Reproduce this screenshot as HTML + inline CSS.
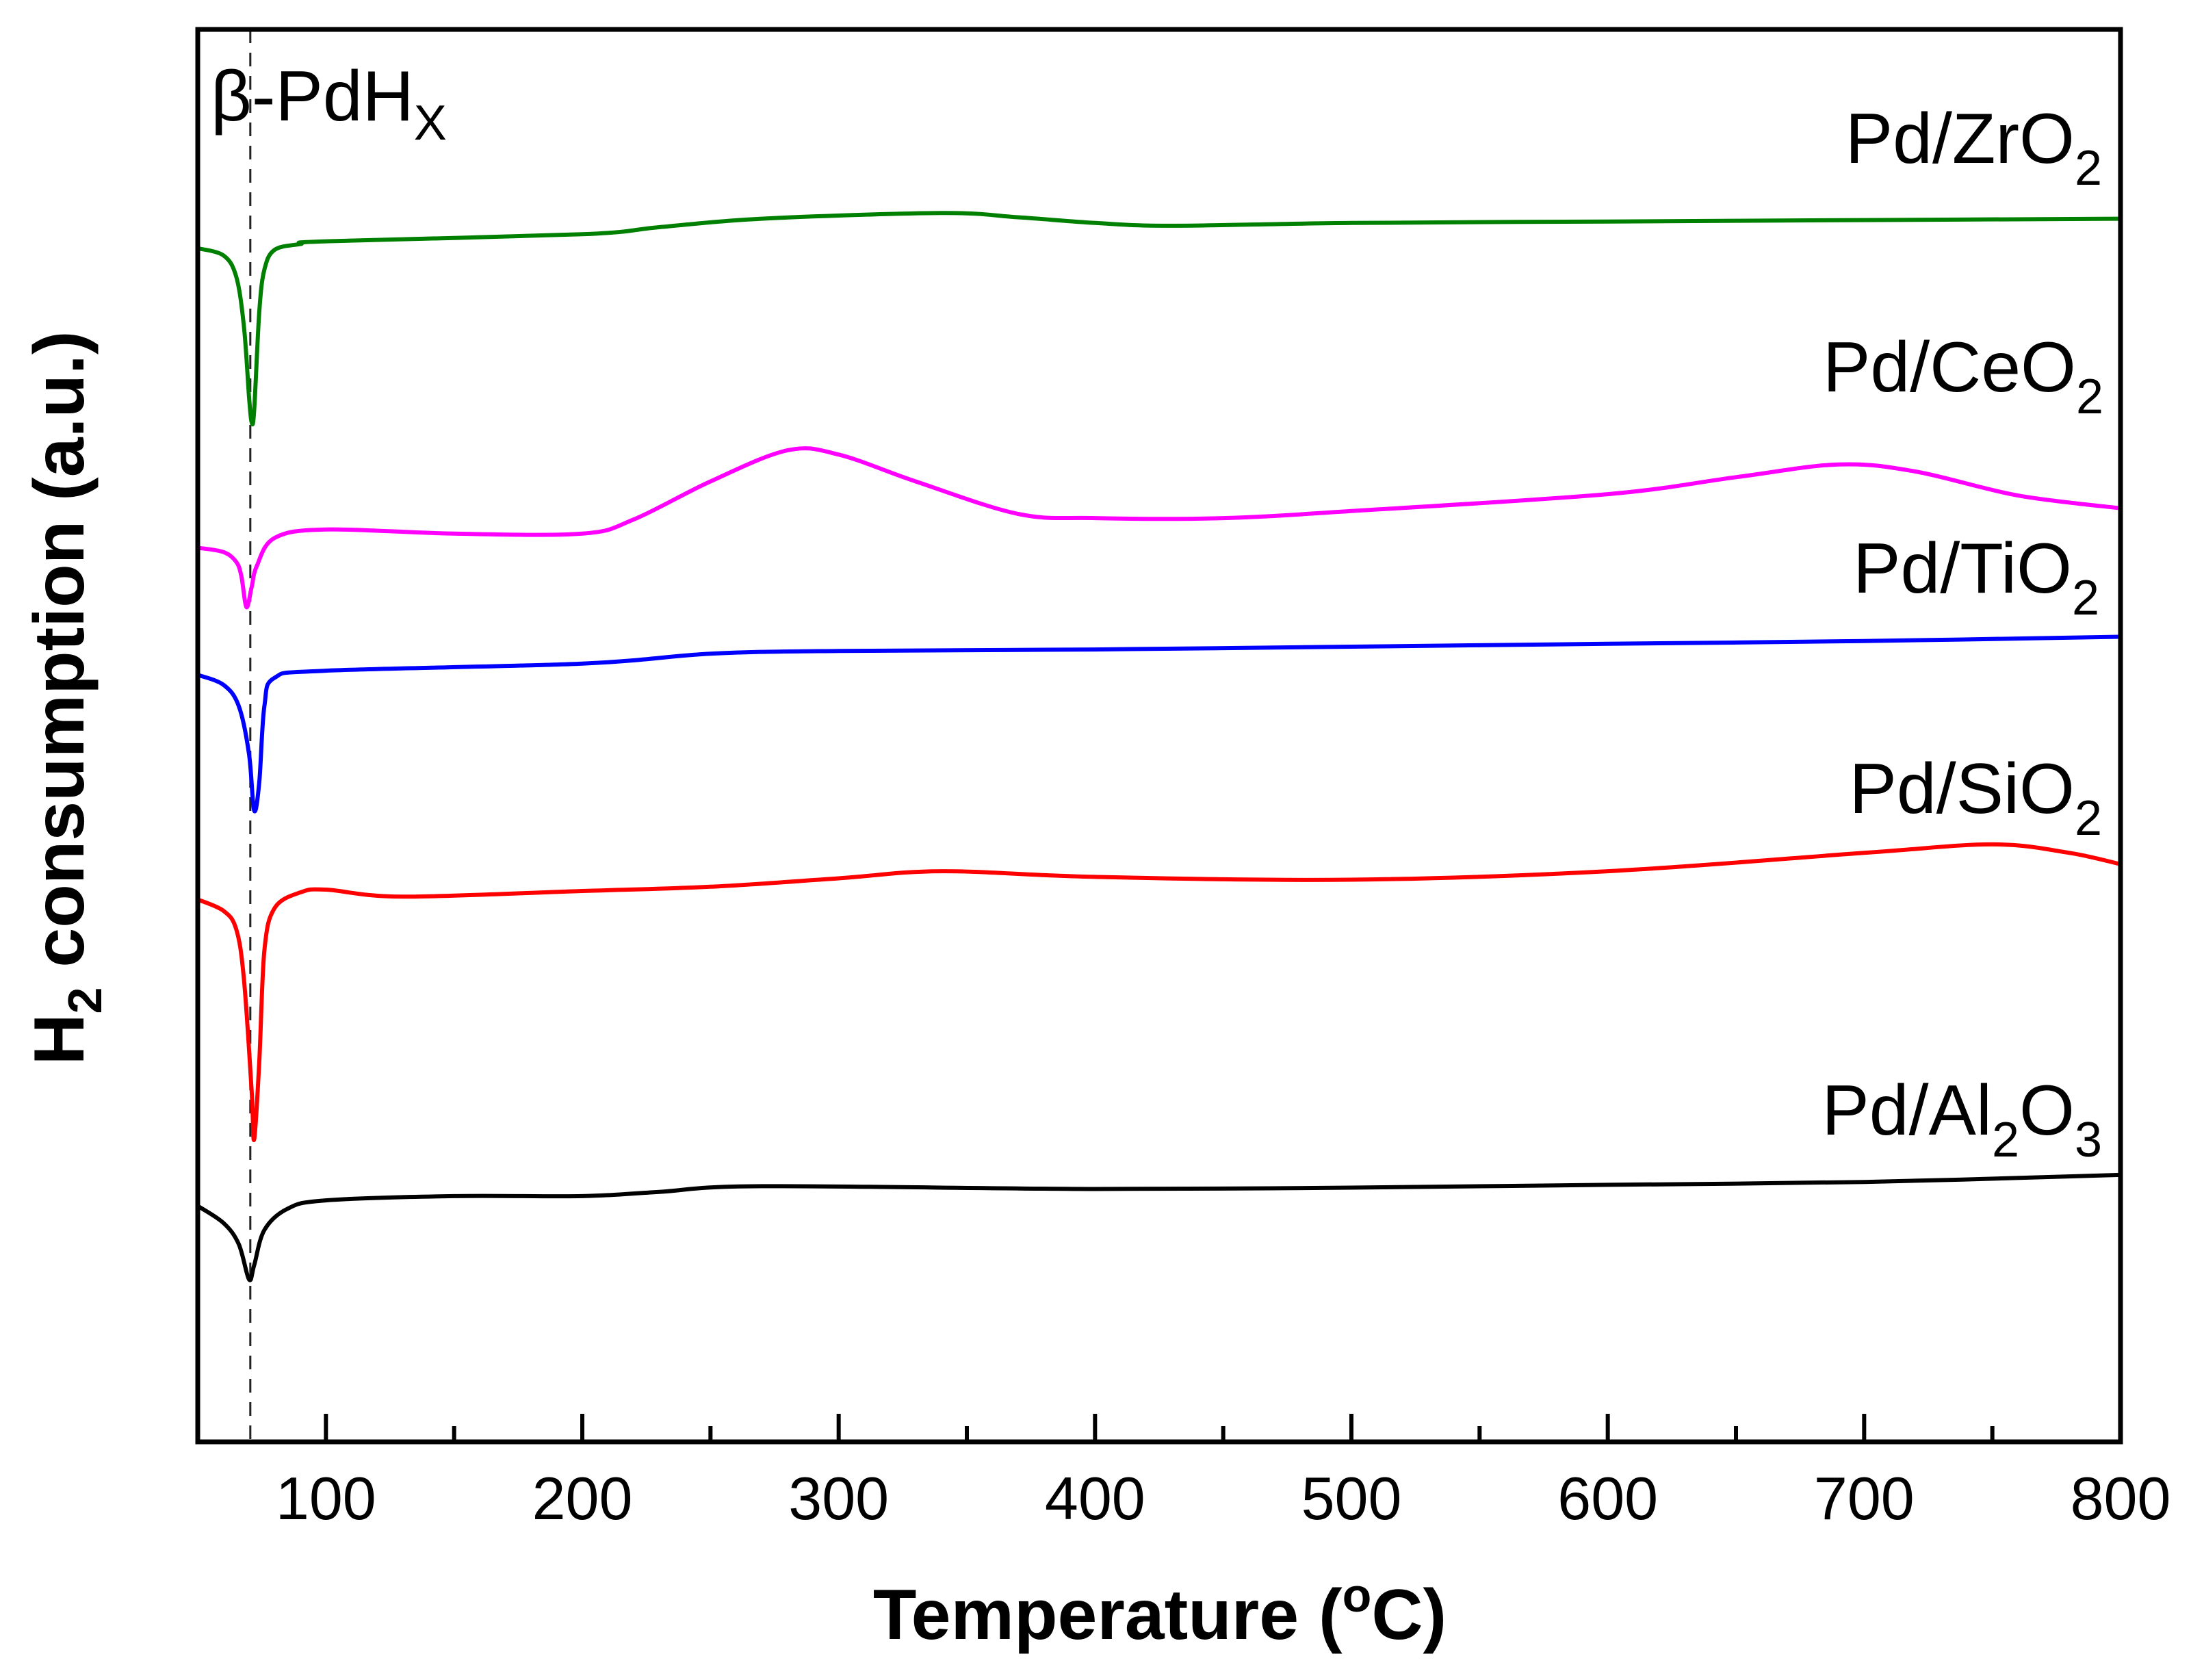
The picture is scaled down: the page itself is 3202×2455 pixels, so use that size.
<!DOCTYPE html>
<html><head><meta charset="utf-8"><style>
html,body{margin:0;padding:0;background:#fff;}
svg{display:block;font-family:"Liberation Sans",Arial,sans-serif;}
</style></head><body>
<svg id="chart" width="3202" height="2455" viewBox="0 0 3202 2455" xmlns="http://www.w3.org/2000/svg">
<g id="series"></g>
<g id="axes"></g>
<text x="308" y="176" font-size="104">β-PdH<tspan font-size="72" dy="28">X</tspan></text>
<text x="3072" y="238" text-anchor="end" font-size="104">Pd/ZrO<tspan font-size="72" dy="32">2</tspan></text>
<text x="3074" y="572" text-anchor="end" font-size="104">Pd/CeO<tspan font-size="72" dy="32">2</tspan></text>
<text x="3068" y="866" text-anchor="end" font-size="104">Pd/TiO<tspan font-size="72" dy="32">2</tspan></text>
<text x="3072" y="1188" text-anchor="end" font-size="104">Pd/SiO<tspan font-size="72" dy="32">2</tspan></text>
<text x="3072" y="1658" text-anchor="end" font-size="104">Pd/Al<tspan font-size="72" dy="32">2</tspan><tspan dy="-32">O</tspan><tspan font-size="72" dy="32">3</tspan></text>
<text x="1695" y="2395" text-anchor="middle" font-size="104" font-weight="bold">Temperature (<tspan font-size="70" dy="-40">o</tspan><tspan dy="40">C)</tspan></text>
<text transform="translate(122,1020) rotate(-90)" text-anchor="middle" font-size="104" font-weight="bold">H<tspan font-size="70" dy="26">2</tspan><tspan dy="-26"> consumption (a.u.)</tspan></text>
</svg>
<script>
const xTicks = [100,200,300,400,500,600,700,800];
const xMinorTicks = [150,250,350,450,550,650,750];
const markerTemp = 70.5;
const zrT = [50,60,65,68,70,71,72,74,76,80,90,100,200,230,270,340,370,400,430,500,600,700,800];
const zrV = [84.5,84.0,82.5,79,74,72.2,73,80,83,84.4,84.8,85.0,85.5,86.0,86.6,87.0,86.7,86.3,86.1,86.3,86.4,86.5,86.6];
const ceT = [50,60,65,67,69,71,73,80,100,150,200,220,250,280,300,330,370,400,450,500,600,650,690,720,760,800];
const ceV = [63.3,63.0,62.3,61.3,59.1,60.5,62.0,64.0,64.6,64.3,64.3,65.3,68.0,70.2,69.9,68.0,65.7,65.4,65.4,65.9,67.1,68.3,69.2,68.7,67.0,66.1];
const tiT = [50,60,66,70,72,74,76,80,100,200,250,300,400,500,600,700,800];
const tiV = [54.3,53.6,52.1,48.7,44.7,46.7,52.1,54.1,54.6,55.1,55.8,56.0,56.1,56.3,56.5,56.7,57.0];
const siT = [50,60,65,68,71,72,74,76,80,90,100,130,200,250,300,340,400,500,600,700,750,780,800];
const siV = [38.4,37.6,36.3,32.8,24.9,21.4,26.9,34.8,37.8,38.9,39.1,38.6,39.0,39.3,39.9,40.4,40.0,39.8,40.4,41.7,42.3,41.7,40.9];
const alT = [50,60,66,70,72,76,85,100,150,200,230,270,400,500,600,700,800];
const alV = [16.7,15.5,14.0,11.5,12.5,15.0,16.5,17.1,17.4,17.4,17.7,18.1,17.9,18.0,18.2,18.4,18.9];

const NS='http://www.w3.org/2000/svg';
const X0=289, X1=3099, Y0=2107, Y1=43;
function xs(t){return X0+(t-50)/(800-50)*(X1-X0);}
function ys(v){return Y0-v/100*(Y0-Y1);}
function pathFor(T,V){
  const p=T.map((t,i)=>[xs(t),ys(V[i])]);
  let d='M'+p[0][0].toFixed(1)+','+p[0][1].toFixed(1);
  for(let i=0;i<p.length-1;i++){
    const a=p[Math.max(0,i-1)],b=p[i],c=p[i+1],e=p[Math.min(p.length-1,i+2)];
    const c1=[b[0]+(c[0]-a[0])/6,b[1]+(c[1]-a[1])/6];
    const c2=[c[0]-(e[0]-b[0])/6,c[1]-(e[1]-b[1])/6];
    d+='C'+c1[0].toFixed(1)+','+c1[1].toFixed(1)+' '+c2[0].toFixed(1)+','+c2[1].toFixed(1)+' '+c[0].toFixed(1)+','+c[1].toFixed(1);
  }
  return d;
}
const sg=document.getElementById('series');
const ag=document.getElementById('axes');
const dl=document.createElementNS(NS,'line');
dl.setAttribute('x1',xs(markerTemp));dl.setAttribute('x2',xs(markerTemp));
dl.setAttribute('y1',Y1);dl.setAttribute('y2',Y0);
dl.setAttribute('stroke','#222');dl.setAttribute('stroke-width','3');dl.setAttribute('stroke-dasharray','20,14');


sg.appendChild(dl);
function addSeries(T,V,color,name){
  const p=document.createElementNS(NS,'path');
  p.setAttribute('d',pathFor(T,V));
  p.setAttribute('fill','none');p.setAttribute('stroke',color);p.setAttribute('stroke-width','6');
  p.setAttribute('stroke-linejoin','round');
  
  
  sg.appendChild(p);
}
addSeries(zrT,zrV,'#008000','line-pd-zro2');
addSeries(ceT,ceV,'#ff00ff','line-pd-ceo2');
addSeries(tiT,tiV,'#0000ff','line-pd-tio2');
addSeries(siT,siV,'#ff0000','line-pd-sio2');
addSeries(alT,alV,'#000000','line-pd-al2o3');
const fr=document.createElementNS(NS,'rect');
fr.setAttribute('x',X0);fr.setAttribute('y',Y1);fr.setAttribute('width',X1-X0);fr.setAttribute('height',Y0-Y1);
fr.setAttribute('fill','none');fr.setAttribute('stroke','#000');fr.setAttribute('stroke-width','7');


ag.appendChild(fr);
xTicks.forEach(t=>{
  const l=document.createElementNS(NS,'line');
  l.setAttribute('x1',xs(t));l.setAttribute('x2',xs(t));l.setAttribute('y1',Y0);l.setAttribute('y2',Y0-41);
  l.setAttribute('stroke','#000');l.setAttribute('stroke-width','6');
  
  
  ag.appendChild(l);
  const tx=document.createElementNS(NS,'text');
  tx.setAttribute('x',xs(t));tx.setAttribute('y',2220);tx.setAttribute('text-anchor','middle');tx.setAttribute('font-size','88');
  tx.textContent=t;
  
  
  ag.appendChild(tx);
});
xMinorTicks.forEach(t=>{
  const l=document.createElementNS(NS,'line');
  l.setAttribute('x1',xs(t));l.setAttribute('x2',xs(t));l.setAttribute('y1',Y0);l.setAttribute('y2',Y0-23);
  l.setAttribute('stroke','#000');l.setAttribute('stroke-width','6');
  
  
  ag.appendChild(l);
});
</script>
</body></html>
